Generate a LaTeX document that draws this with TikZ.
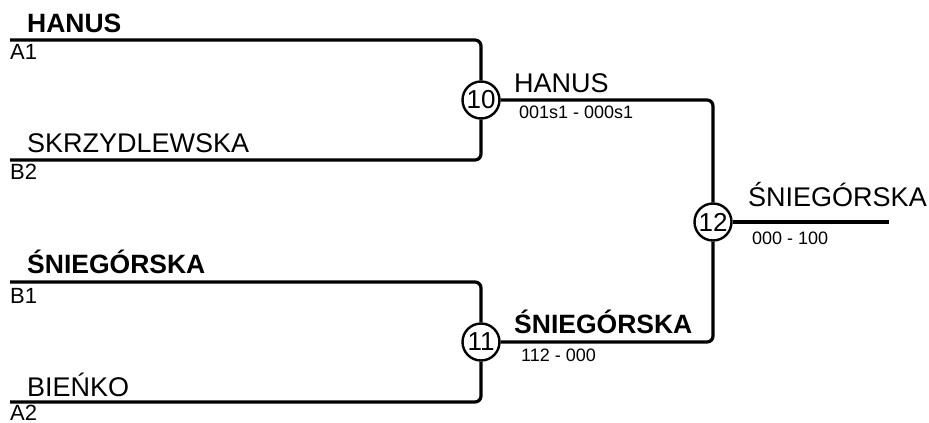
\documentclass[tikz,border=0pt]{standalone}
\usepackage{fontspec}
\setmainfont{Liberation Sans}
\usepackage{tikz}
\usetikzlibrary{positioning}
\tikzset{%
  brkline/.style={%
    draw=black,
    line width=3.2pt,
    rounded corners=6pt
  },
  brkmatch/.style={%
    circle,
    draw=black,
    fill=white,
    line width=2.4pt,
    minimum size=37pt,
    inner sep=0pt,
    font=\fontsize{26}{26}\selectfont
  },
  brkname/.style={%
    anchor=base west,
    inner sep=0pt,
    font=\fontsize{27}{27}\selectfont
  },
  brkwinner/.style={%
    brkname,
    font=\fontsize{26.5}{27}\selectfont\bfseries
  },
  brkseed/.style={%
    anchor=base west,
    inner sep=0pt,
    font=\fontsize{22}{22}\selectfont
  },
  brkscore/.style={%
    anchor=base west,
    inner sep=0pt,
    font=\fontsize{18}{18}\selectfont
  }
}
\begin{document}
\begin{tikzpicture}[x=1pt,y=-1pt]
    \useasboundingbox (0,0) rectangle (929,423);

    % first round lines
    \coordinate (a1) at (10,40);
    \coordinate (b2) at (10,160);
    \coordinate (b1) at (10,282);
    \coordinate (a2) at (10,402);
    \coordinate (champ) at (889,222);

    \node[brkmatch] (m10) at (481,100) {10};
    \node[brkmatch] (m11) at (481,342) {11};
    \node[brkmatch] (m12) at (713,222) {12};

    \draw[brkline] (a1) -| (m10.north);
    \draw[brkline] (b2) -| (m10.south);
    \draw[brkline] (b1) -| (m11.north);
    \draw[brkline] (a2) -| (m11.south);
    \draw[brkline] (m10.east) -| (m12.north);
    \draw[brkline] (m11.east) -| (m12.south);
    \draw[brkline] (m12.east) -- (champ);

    % players and seeds
    \node[brkwinner] (hanus) at (27,32) {HANUS};
    \node[brkseed] (seeda1) at (10,59) {A1};
    \node[brkname] (skrzyd) at (27,152) {SKRZYDLEWSKA};
    \node[brkseed] (seedb2) at (10,179) {B2};
    \node[brkwinner] (snieg) at (27,273) {ŚNIEGÓRSKA};
    \node[brkseed] (seedb1) at (10,303) {B1};
    \node[brkname] (bienko) at (27,396) {BIEŃKO};
    \node[brkseed] (seeda2) at (10,420) {A2};

    % winners and scores
    \node[brkname] (win10) at (514,92) {HANUS};
    \node[brkscore] (score10) at (519,118) {001s1 - 000s1};
    \node[brkwinner] (win11) at (514,333) {ŚNIEGÓRSKA};
    \node[brkscore] (score11) at (521,361) {112 - 000};
    \node[brkname] (win12) at (748,206) {ŚNIEGÓRSKA};
    \node[brkscore] (score12) at (752,244) {000 - 100};
\end{tikzpicture}
\end{document}
